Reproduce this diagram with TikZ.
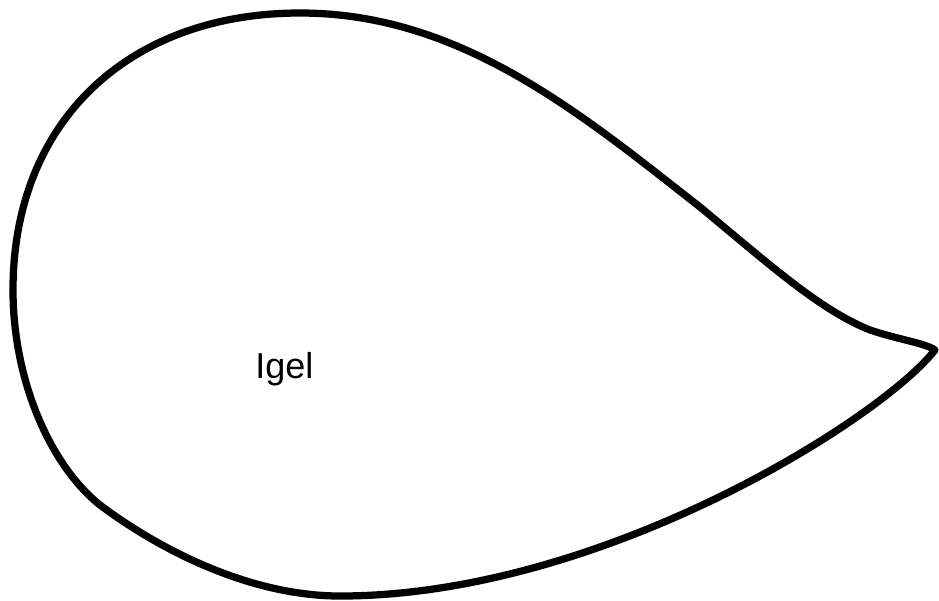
\documentclass[tikz,border=0pt]{standalone}
\usepackage{fontspec}
\setmainfont{Liberation Sans}
\begin{document}
\begin{tikzpicture}[x=0.02cm,y=-0.02cm,
  blob/.style={draw=black,line width=0.145cm,line join=round,fill=white},
  lbl/.style={font=\fontsize{20.5}{24}\selectfont,inner sep=0pt}]
\useasboundingbox (0,0) rectangle (939,600);
\coordinate (tip) at (935,350);
\coordinate (top) at (300,13);
\coordinate (left) at (13,290);
\coordinate (bot) at (340,596);
\coordinate (ua) at (700,207);
\coordinate (ub) at (870,330);
\coordinate (bl) at (100,505);
\draw[blob] (tip) .. controls (925,343) and (900,340) .. (ub)
  .. controls (820,310) and (770,265) .. (ua)
  .. controls (580,113) and (460,13) .. (top)
  .. controls (130,13) and (13,120) .. (left)
  .. controls (13,380) and (50,465) .. (bl)
  .. controls (160,550) and (250,596) .. (bot)
  .. controls (600,596) and (880,420) .. (tip) -- cycle;
\node[lbl,anchor=base west] (igel) at (255,378) {Igel};
\end{tikzpicture}
\end{document}
